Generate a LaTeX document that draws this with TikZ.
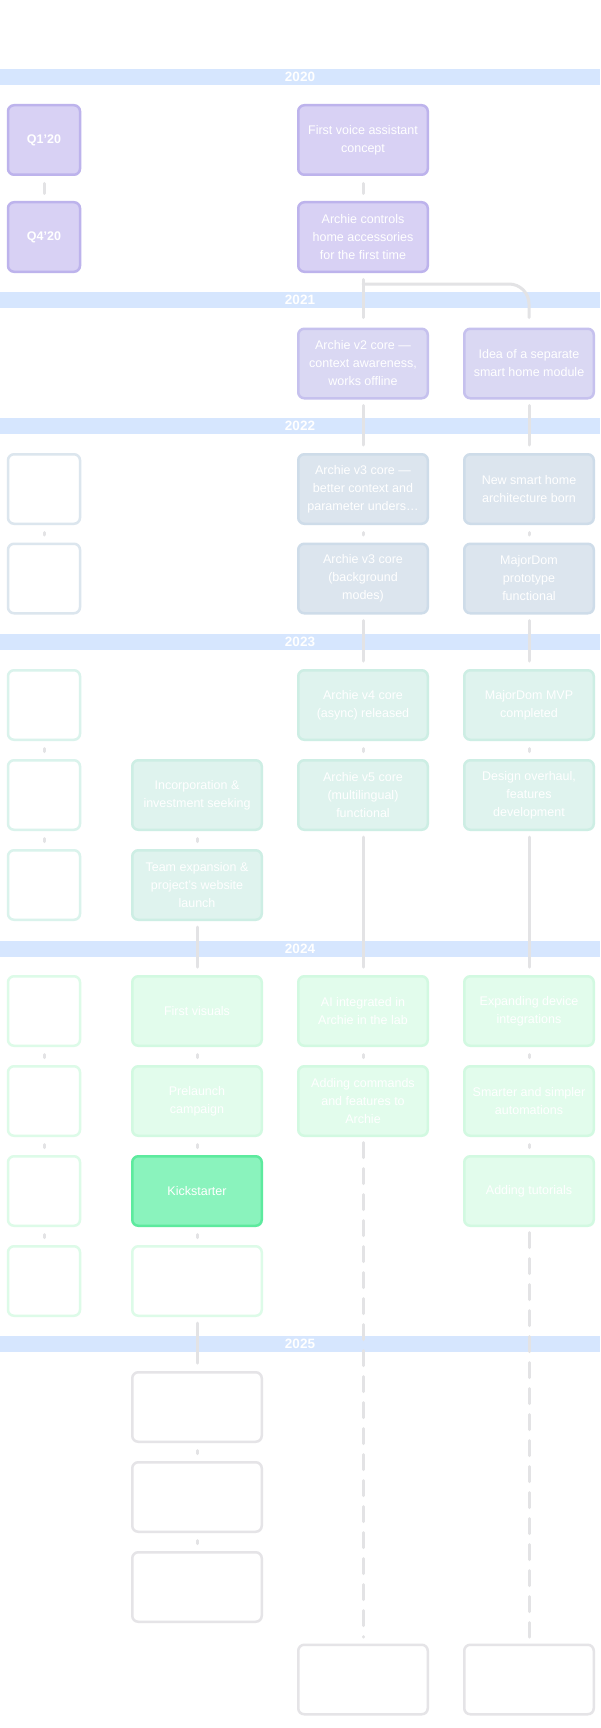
\documentclass[tikz,border=0pt]{standalone}
\usepackage{fontspec}
\setmainfont{Liberation Sans}
\definecolor{bandc}{HTML}{D6E6FE}
\definecolor{connc}{HTML}{E3E3E5}
\definecolor{pf}{HTML}{D8D1F4}
\definecolor{pd}{HTML}{BDB3EC}
\definecolor{vf}{HTML}{DAD8F3}
\definecolor{vd}{HTML}{C6C1EE}
\definecolor{bf}{HTML}{DCE5EE}
\definecolor{bd}{HTML}{CEDCE9}
\definecolor{bl}{HTML}{DCE6EE}
\definecolor{tf}{HTML}{DFF3EE}
\definecolor{td}{HTML}{CDEEE4}
\definecolor{tl}{HTML}{DAF3EC}
\definecolor{gf}{HTML}{E2FCEC}
\definecolor{gd}{HTML}{D2F9E1}
\definecolor{gl}{HTML}{DDFBE8}
\definecolor{kf}{HTML}{8AF3BD}
\definecolor{kd}{HTML}{5DEA9E}
\definecolor{gray}{HTML}{E5E4E7}
\begin{document}
\begin{tikzpicture}[x=1pt,y=-1pt,
  band/.style={fill=bandc, minimum width=600pt, minimum height=16pt, inner sep=0pt, text=white, font=\fontsize{13.5}{15}\selectfont\bfseries},
  head/.style={text=white, align=center, font=\fontsize{12.5}{18}\selectfont\bfseries},
  card/.style={rounded corners=6pt, line width=2.5pt, minimum width=129.5pt, minimum height=69.5pt, inner sep=2pt, align=center, text=white, font=\fontsize{12.5}{18}\selectfont},
  qcard/.style={card, minimum width=72pt},
  cP/.style={fill=pf, draw=pd},
  cV/.style={fill=vf, draw=vd},
  cB/.style={fill=bf, draw=bd},
  cBl/.style={fill=white, draw=bl},
  cT/.style={fill=tf, draw=td},
  cTl/.style={fill=white, draw=tl},
  cG/.style={fill=gf, draw=gd},
  cGl/.style={fill=white, draw=gl},
  cK/.style={fill=kf, draw=kd},
  cX/.style={fill=white, draw=gray},
  conn/.style={draw=connc, line width=3pt, line cap=round},
  tick/.style={conn, shorten <=7.5pt, shorten >=7.5pt},
  link/.style={conn, shorten <=6pt, shorten >=8pt},
  future/.style={conn, dash pattern=on 15pt off 11pt, shorten <=5.5pt, shorten >=6.5pt}
]
\useasboundingbox (0,0) rectangle (600,1728);
\fill[white] (0,0) rectangle (600,1728);

% headers
\node[head] (hb) at (197,30) {Business Line};
\node[head] (ha) at (363,30) {Voice Assistant\\(Archie) Line};
\node[head] (hm) at (529,30) {MajorDom Line};

% year bands
\node[band] (y20) at (300,77) {2020};
\node[band] (y21) at (300,300) {2021};
\node[band] (y22) at (300,425.5) {2022};
\node[band] (y23) at (300,642) {2023};
\node[band] (y24) at (300,948.5) {2024};
\node[band] (y25) at (300,1344) {2025};

% 2020
\node[qcard, cP, font=\fontsize{12.5}{18}\selectfont\bfseries] (q20a) at (44,140) {Q1’20};
\node[qcard, cP, font=\fontsize{12.5}{18}\selectfont\bfseries] (q20b) at (44,237) {Q4’20};
\node[card, cP] (a20a) at (363,140) {First voice assistant\\concept};
\node[card, cP] (a20b) at (363,237) {Archie controls\\home accessories\\for the first time};

% 2021
\node[card, cV] (a21) at (363,363.5) {Archie v2 core —\\context awareness,\\works offline};
\node[card, cV] (m21) at (529,363.5) {Idea of a separate\\smart home module};

% 2022
\node[qcard, cBl] (q22a) at (44,489) {Q1-Q2’22};
\node[qcard, cBl] (q22b) at (44,578.5) {Q3-Q4’22};
\node[card, cB] (a22a) at (363,489) {Archie v3 core —\\better context and\\parameter unders…};
\node[card, cB] (a22b) at (363,578.5) {Archie v3 core\\(background\\modes)};
\node[card, cB] (m22a) at (529,489) {New smart home\\architecture born};
\node[card, cB] (m22b) at (529,578.5) {MajorDom\\prototype\\functional};

% 2023
\node[qcard, cTl] (q23a) at (44,705) {Q1-Q2’23};
\node[qcard, cTl] (q23b) at (44,795) {Q3’23};
\node[qcard, cTl] (q23c) at (44,885) {Q4’23};
\node[card, cT] (b23b) at (197,795) {Incorporation \&\\investment seeking};
\node[card, cT] (b23c) at (197,885) {Team expansion \&\\project’s website\\launch};
\node[card, cT] (a23a) at (363,705) {Archie v4 core\\(async) released};
\node[card, cT] (a23b) at (363,795) {Archie v5 core\\(multilingual)\\functional};
\node[card, cT] (m23a) at (529,705) {MajorDom MVP\\completed};
\node[card, cT] (m23b) at (529,795) {Design overhaul,\\features\\development};

% 2024
\node[qcard, cGl] (q24a) at (44,1011) {Q1’24};
\node[qcard, cGl] (q24b) at (44,1101) {Q2’24};
\node[qcard, cGl] (q24c) at (44,1191) {Q3’24};
\node[qcard, cGl] (q24d) at (44,1281) {Q4’24};
\node[card, cG] (b24a) at (197,1011) {First visuals};
\node[card, cG] (b24b) at (197,1101) {Prelaunch\\campaign};
\node[card, cK] (b24c) at (197,1191) {Kickstarter};
\node[card, cGl] (b24d) at (197,1281) {Production of the first\\batch for Kickstarter\\backers};
\node[card, cG] (a24a) at (363,1011) {AI integrated in\\Archie in the lab};
\node[card, cG] (a24b) at (363,1101) {Adding commands\\and features to\\Archie};
\node[card, cG] (m24a) at (529,1011) {Expanding device\\integrations};
\node[card, cG] (m24b) at (529,1101) {Smarter and simpler\\automations};
\node[card, cG] (m24c) at (529,1191) {Adding tutorials};

% 2025
\node[card, cX] (b25a) at (197,1407) {Official\\product launch and\\distribution};
\node[card, cX] (b25b) at (197,1497) {Scaling the\\manufacturing};
\node[card, cX] (b25c) at (197,1587) {Expanding to retailers};
\node[card, cX] (abot) at (363,1679.5) {Next: Archie v6};
\node[card, cX] (mbot) at (529,1679.5) {Next: MajorDom v2};

% connectors 2020-2021
\draw[tick] (q20a) -- (q20b);
\draw[tick] (a20a) -- (a20b);
\draw[conn, shorten <=6.5pt, shorten >=10pt] (a20b) -- (a21);
\draw[conn, rounded corners=20pt] ([yshift=-11pt]a20b.south) -| ([yshift=10pt]m21.north);
% 2021-2022
\draw[link] (a21) -- (a22a);
\draw[link] (m21) -- (m22a);
\draw[tick] (q22a) -- (q22b);
\draw[tick] (a22a) -- (a22b);
\draw[tick] (m22a) -- (m22b);
% 2022-2023
\draw[link] (a22b) -- (a23a);
\draw[link] (m22b) -- (m23a);
\draw[tick] (q23a) -- (q23b);
\draw[tick] (q23b) -- (q23c);
\draw[tick] (b23b) -- (b23c);
\draw[tick] (a23a) -- (a23b);
\draw[tick] (m23a) -- (m23b);
% 2023-2024
\draw[link] (b23c) -- (b24a);
\draw[link] (a23b) -- (a24a);
\draw[link] (m23b) -- (m24a);
\draw[tick] (q24a) -- (q24b);
\draw[tick] (q24b) -- (q24c);
\draw[tick] (q24c) -- (q24d);
\draw[tick] (b24a) -- (b24b);
\draw[tick] (b24b) -- (b24c);
\draw[tick] (b24c) -- (b24d);
\draw[tick] (a24a) -- (a24b);
\draw[tick] (m24a) -- (m24b);
\draw[tick] (m24b) -- (m24c);
% 2024-2025
\draw[link] (b24d) -- (b25a);
\draw[tick] (b25a) -- (b25b);
\draw[tick] (b25b) -- (b25c);
\draw[future] (a24b) -- (abot);
\draw[future] (m24c) -- (mbot);
\end{tikzpicture}
\end{document}
